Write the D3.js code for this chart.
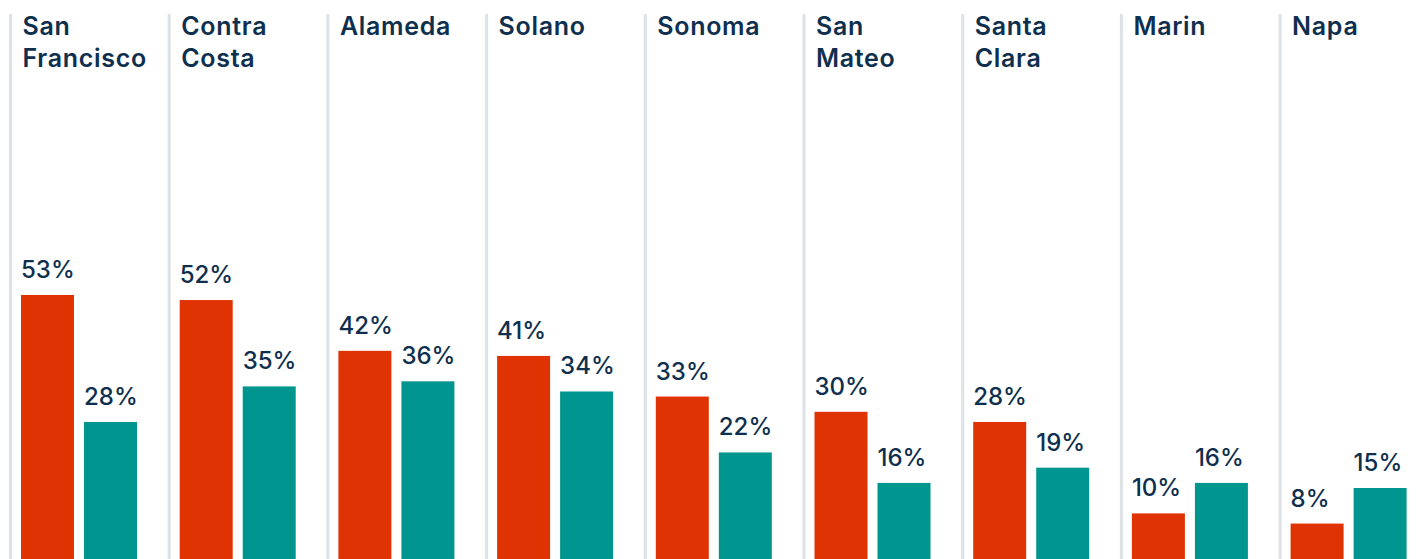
<!DOCTYPE html>
<html>
<head>
<meta charset="utf-8">
<script src="https://cdn.jsdelivr.net/npm/d3@7"></script>
<style>
  html, body { margin: 0; padding: 0; background: #fff; }
  svg { display: block; }
  text { font-family: Inter, "Noto Sans", sans-serif; fill: #0f2f4e; }
</style>
</head>
<body>
<svg id="chart" width="1418" height="559"></svg>
<script>
const counties = ["San Francisco", "Contra Costa", "Alameda", "Solano", "Sonoma", "San Mateo", "Santa Clara", "Marin", "Napa"];
const titleLines = [["San", "Francisco"], ["Contra", "Costa"], ["Alameda"], ["Solano"], ["Sonoma"], ["San", "Mateo"], ["Santa", "Clara"], ["Marin"], ["Napa"]];
const seriesKeys = ["first", "second"];
const firstValues = [53, 52, 42, 41, 33, 30, 28, 10, 8];
const secondValues = [28, 35, 36, 34, 22, 16, 19, 16, 15];
const seriesColors = ["#df3304", "#00958f"];

const data = counties.map((c, i) => ({
  county: c,
  lines: titleLines[i],
  values: [
    { key: seriesKeys[0], value: firstValues[i] },
    { key: seriesKeys[1], value: secondValues[i] }
  ]
}));

const svg = d3.select("#chart");
const W = 1418, H = 559;

const x0 = d3.scaleBand().domain(counties).range([9, 9 + 9 * 158.7]).paddingInner(0).paddingOuter(0);
const x1 = d3.scaleBand().domain(seriesKeys).range([12, 128]).paddingInner(0.159).paddingOuter(0);
const y = d3.scaleLinear().domain([0, 100]).range([564.2, 56.2]);
const color = d3.scaleOrdinal().domain(seriesKeys).range(seriesColors);

const panels = svg.selectAll("g.panel").data(data).join("g")
  .attr("class", "panel")
  .attr("transform", d => `translate(${x0(d.county)},0)`);

panels.append("rect")
  .attr("x", 0).attr("y", 14).attr("width", 3).attr("height", H - 14)
  .attr("fill", "#dde2e6");

panels.append("text")
  .attr("x", 13.5)
  .attr("font-size", 25)
  .attr("font-weight", 600)
  .attr("letter-spacing", 0.7)
  .selectAll("tspan").data(d => d.lines).join("tspan")
  .attr("x", 13.5)
  .attr("y", (d, i) => 35 + i * 32)
  .text(d => d);

panels.selectAll("text.lbl").data(d => d.values).join("text")
  .attr("class", "lbl")
  .attr("x", d => x1(d.key))
  .attr("y", d => y(d.value) - 17)
  .attr("font-size", 24)
  .attr("font-weight", 500)
  .text(d => d.value + "%");

panels.selectAll("rect.bar").data(d => d.values).join("rect")
  .attr("class", "bar")
  .attr("x", d => x1(d.key))
  .attr("width", x1.bandwidth())
  .attr("y", d => y(d.value))
  .attr("height", d => y(0) - y(d.value))
  .attr("fill", d => color(d.key));
</script>
</body>
</html>
